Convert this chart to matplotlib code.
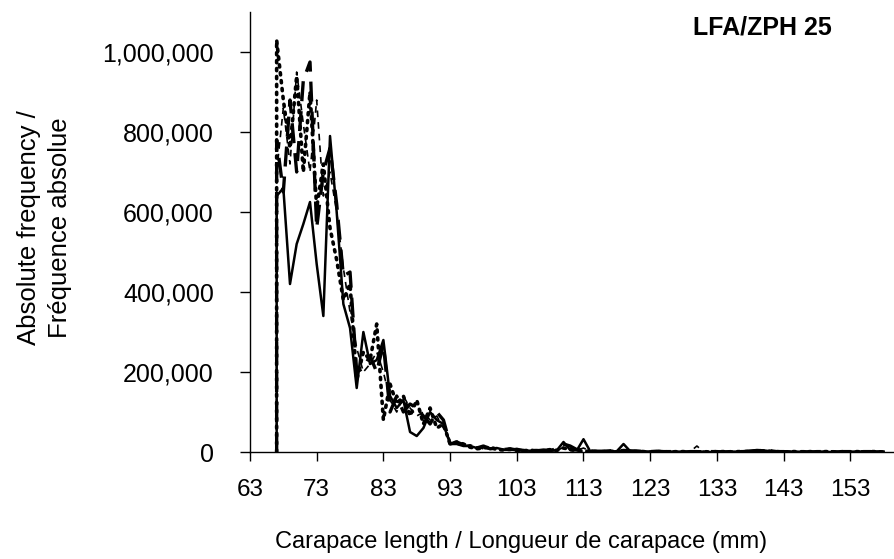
import matplotlib.pyplot as plt
from matplotlib.ticker import FuncFormatter

plt.rcParams['font.family'] = ['Liberation Sans', 'DejaVu Sans']

# carapace length classes (mm)
lengths = list(range(67, 159))

# absolute frequency per length class, in thousands
freq_solid = [
    640, 660, 420, 520, 570, 625, 470, 340, 790, 600,
    370, 310, 160, 300, 220, 230, 280, 140, 110, 130,
    50, 40, 60, 100, 80, 70, 20, 20, 15, 15,
    10, 12, 8, 10, 6, 5, 8, 4, 3, 5,
    3, 3, 4, 25, 5, 4, 32, 2, 1, 1,
    1, 2, 20, 2, 3, 2, 1, 1, 1, 1,
    1, 1, 0, 1, 1, 0, 1, 1, 1, 1,
    2, 3, 5, 4, 2, 1, 1, 1, 1, 0,
    1, 1, 1, 0, 1, 1, 1, 1, 1, 0,
    1, 1,
]
freq_dashed = [
    780, 650, 880, 700, 930, 975, 560, 700, 760, 620,
    440, 450, 200, 210, 240, 200, 270, 100, 140, 100,
    120, 110, 90, 70, 100, 80, 20, 25, 18, 15,
    10, 15, 8, 10, 6, 8, 5, 4, 6, 3,
    5, 4, 8, 20, 15, 6, 5, 3, 2, 2,
    3, 2, 4, 3, 2, 1, 1, 2, 1, 1,
    1, 0, 1, 1, 0, 1, 1, 0, 1, 1,
    1, 2, 3, 4, 3, 1, 1, 0, 1, 1,
    0, 1, 1, 1, 0, 1, 1, 0, 1, 1,
    0, 1,
]
freq_dotted = [
    1030, 880, 760, 940, 700, 900, 610, 720, 560, 480,
    380, 420, 180, 250, 230, 320, 80, 170, 120, 140,
    90, 130, 70, 110, 60, 70, 20, 25, 20, 12,
    8, 10, 12, 6, 5, 7, 4, 3, 5, 2,
    3, 6, 4, 10, 6, 3, 2, 2, 1, 1,
    2, 1, 3, 2, 1, 1, 0, 1, 1, 0,
    1, 1, 0, 0, 1, 0, 1, 1, 0, 1,
    1, 1, 2, 3, 2, 1, 0, 1, 1, 0,
    1, 0, 1, 1, 0, 1, 0, 1, 0, 1,
    1, 0,
]
freq_thin = [
    700, 860, 720, 950, 820, 700, 880, 640, 700, 600,
    460, 350, 260, 200, 220, 250, 200, 130, 100, 140,
    110, 90, 100, 80, 90, 60, 30, 20, 15, 18,
    12, 8, 10, 7, 5, 6, 4, 5, 3, 4,
    2, 5, 3, 12, 8, 4, 10, 2, 2, 1,
    1, 2, 6, 2, 1, 2, 1, 1, 0, 1,
    1, 0, 1, 15, 1, 0, 1, 0, 1, 1,
    0, 1, 2, 2, 1, 1, 0, 1, 0, 1,
    1, 0, 1, 0, 1, 0, 1, 1, 0, 1,
    0, 1,
]

xticks = list(range(63, 154, 10))
yticks = [0, 200000, 400000, 600000, 800000, 1000000]

fig = plt.figure(figsize=(8.95, 5.59), dpi=100)
ax = fig.add_axes([0.2793, 0.1914, 0.7207, 0.7871])

styles = [
    (freq_dotted, dict(linestyle=(0, (0.6, 1.6)), linewidth=2.6, dash_capstyle='round')),
    (freq_thin, dict(linestyle=(0, (4, 3)), linewidth=1.2)),
    (freq_dashed, dict(linestyle=(0, (6, 3)), linewidth=2.4)),
    (freq_solid, dict(linestyle='-', linewidth=1.8)),
]
for vals, kw in styles:
    # every series rises from zero at the first length class
    xs = [lengths[0]] + lengths
    ys = [0] + [v * 1000 for v in vals]
    ax.plot(xs, ys, color='black', **kw)

ax.set_xlim(63, 159.7)
ax.set_ylim(0, 1100000)
ax.set_xticks(xticks)
ax.set_yticks(yticks)
ax.yaxis.set_major_formatter(FuncFormatter(lambda v, p: f'{int(v):,}'))

for s in ['top', 'right']:
    ax.spines[s].set_visible(False)
for s in ['left', 'bottom']:
    ax.spines[s].set_linewidth(1.0)
ax.tick_params(axis='x', direction='out', length=6.5, width=1, labelsize=17.5, pad=13)
ax.tick_params(axis='y', direction='out', length=7, width=1, labelsize=18, pad=19)

ax.set_xlabel('Carapace length / Longueur de carapace (mm)', fontsize=17, va='center')
ax.xaxis.set_label_coords(0.42, -0.205)
ax.set_ylabel('Absolute frequency /\nFréquence absolue', fontsize=18.5, linespacing=1.35)
ax.yaxis.set_label_coords(-0.276, 0.51)

ax.text(0.902, 0.964, 'LFA/ZPH 25', transform=ax.transAxes, ha='right', va='center',
        fontsize=18, fontweight='bold')

fig.savefig('out.png', dpi=100)
